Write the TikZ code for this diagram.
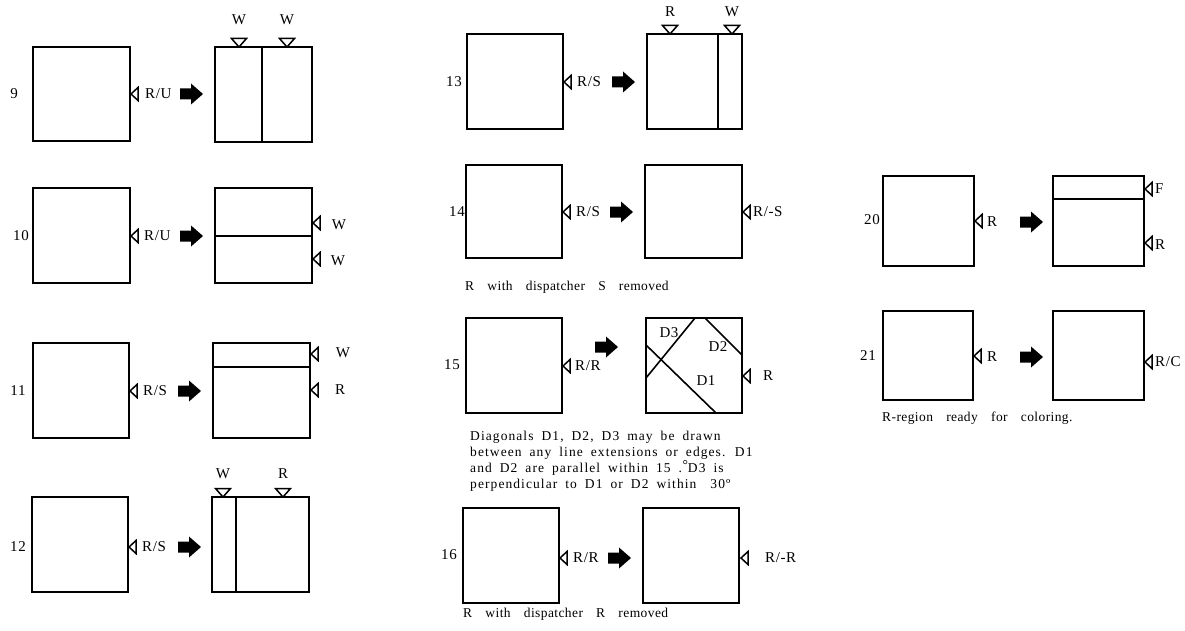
\documentclass[tikz,border=0pt]{standalone}
\usepackage{fontspec}
\setmainfont{Liberation Serif}
\newfontfamily\lblfont{Liberation Serif}[LetterSpace=4]
\newfontfamily\capfont{Liberation Serif}[LetterSpace=3,WordSpace=3.5]
\newfontfamily\diafont{Liberation Serif}[LetterSpace=8,WordSpace=1.8]
\newcommand\bx[5]{\node[box, minimum width={(#4)-(#2)}, minimum height={(#5)-(#3)}] (#1) at (#2,#3) {};}
\newcommand\mkL[2]{\draw[mk] (#1,#2) -- ++(7,-6.5) -- ++(0,13) -- cycle;}
\newcommand\mkD[2]{\draw[mk] (#1,#2) -- ++(-7.5,-8.5) -- ++(15,0) -- cycle;}
\tikzset{
  box/.style={draw, line width=1.3pt, inner sep=0pt, outer sep=0pt, anchor=north west},
  mk/.style={draw, line width=1.5pt, line join=miter},
  lbl/.style={font=\lblfont\fontsize{15}{17}\selectfont, inner sep=0pt, anchor=west},
  ctr/.style={font=\lblfont\fontsize{15}{17}\selectfont, inner sep=0pt},
  capt/.style={font=\capfont\fontsize{13.5}{16}\selectfont, inner sep=0pt, anchor=west},
  diag/.style={line width=1.6pt},
  bigarrow/.pic={\fill (0,-5.5) -- (11,-5.5) -- (11,-10.5) -- (23,0) -- (11,10.5) -- (11,5.5) -- (0,5.5) -- cycle;}
}
\begin{document}
\begin{tikzpicture}[x=1pt,y=-1pt]
\useasboundingbox (0,0) rectangle (1185,631);

% ---------- row 9
\node[ctr] (n9) at (14,94) {9};
\bx{a9}{33}{47}{130}{141}
\mkL{131}{94}
\node[lbl] (l9) at (145,94) {R/U};
\pic (ar9) at (180,94) {bigarrow};
\bx{b9}{215}{47}{312}{142}
\draw[line width=1.3pt] (262,47) -- (262,142);
\mkD{239}{47}
\mkD{287}{47}
\node[ctr] (w9a) at (239,20) {W};
\node[ctr] (w9b) at (287,20) {W};

% ---------- row 10
\node[ctr] (n10) at (21,236) {10};
\bx{a10}{33}{188}{130}{283}
\mkL{131}{236}
\node[lbl] (l10) at (144,236) {R/U};
\pic (ar10) at (180,236) {bigarrow};
\bx{b10}{215}{188}{312}{283}
\draw[line width=1.3pt] (215,236) -- (312,236);
\mkL{313}{223}
\mkL{313}{259}
\node[ctr] (w10a) at (339,225) {W};
\node[ctr] (w10b) at (338,261) {W};

% ---------- row 11
\node[ctr] (n11) at (18,391) {11};
\bx{a11}{33}{343}{129}{438}
\mkL{130}{391}
\node[lbl] (l11) at (143,391) {R/S};
\pic (ar11) at (178,391) {bigarrow};
\bx{b11}{213}{343}{310}{438}
\draw[line width=1.3pt] (213,367) -- (310,367);
\mkL{311}{354}
\mkL{311}{390}
\node[ctr] (w11) at (343,353) {W};
\node[ctr] (r11) at (340,390) {R};

% ---------- row 12
\node[ctr] (n12) at (18,547) {12};
\bx{a12}{32}{497}{128}{592}
\mkL{129}{547}
\node[lbl] (l12) at (142,547) {R/S};
\pic (ar12) at (178,547) {bigarrow};
\bx{b12}{212}{497}{309}{592}
\draw[line width=1.3pt] (236,497) -- (236,592);
\mkD{223}{497}
\mkD{283}{497}
\node[ctr] (w12) at (223,474) {W};
\node[ctr] (r12) at (283,474) {R};

% ---------- row 13
\node[ctr] (n13) at (454,82) {13};
\bx{a13}{467}{34}{563}{129}
\mkL{564}{82}
\node[lbl] (l13) at (577,82) {R/S};
\pic (ar13) at (612,82) {bigarrow};
\bx{b13}{647}{34}{742}{129}
\draw[line width=1.3pt] (718,34) -- (718,129);
\mkD{670}{34}
\mkD{732}{34}
\node[ctr] (r13) at (670,12) {R};
\node[ctr] (w13) at (732,12) {W};

% ---------- row 14
\node[ctr] (n14) at (457,212) {14};
\bx{a14}{466}{165}{562}{258}
\mkL{563}{212}
\node[lbl] (l14) at (576,212) {R/S};
\pic (ar14) at (610,212) {bigarrow};
\bx{b14}{645}{165}{742}{258}
\mkL{743}{212}
\node[lbl] (l14b) at (753,212) {R/-S};
\node[capt] (c14) at (465,287) {R with dispatcher S removed};

% ---------- row 15
\node[ctr] (n15) at (452,365) {15};
\bx{a15}{466}{318}{562}{413}
\mkL{563}{366}
\node[lbl] (l15) at (575,366) {R/R};
\pic (ar15) at (595,347) {bigarrow};
\bx{b15}{646}{318}{742}{413}
\draw[diag] (646,378) -- (695,318);
\draw[diag] (646,345) -- (716,413);
\draw[diag] (705,318) -- (742,355);
\node[ctr] (d3) at (669,333) {D3};
\node[ctr] (d2) at (718,347) {D2};
\node[ctr] (d1) at (706,381) {D1};
\mkL{743}{376}
\node[lbl] (r15) at (763,376) {R};
\node[font=\diafont\fontsize{13.5}{16}\selectfont, inner sep=0pt, anchor=north west, align=left] (c15) at (470,431)
  {Diagonals D1, D2, D3 may be drawn\\
   between any line extensions or edges. D1\\
   and D2 are parallel within 15 .\kern0.5pt\raisebox{3pt}{\textdegree}D3 is\\
   perpendicular to D1 or D2 within\hspace{14pt}30º};

% ---------- row 16
\node[ctr] (n16) at (449,555) {16};
\bx{a16}{463}{508}{559}{603}
\mkL{560}{558}
\node[lbl] (l16) at (573,558) {R/R};
\pic (ar16) at (608,558) {bigarrow};
\bx{b16}{643}{508}{739}{603}
\mkL{741}{558}
\node[lbl] (l16b) at (765,558) {R/-R};
\node[capt] (c16) at (463,614) {R with dispatcher R removed};

% ---------- row 20
\node[ctr] (n20) at (872,220) {20};
\bx{a20}{883}{176}{974}{266}
\mkL{975}{221}
\node[lbl] (l20) at (987,222) {R};
\pic (ar20) at (1020,222) {bigarrow};
\bx{b20}{1053}{176}{1144}{266}
\draw[line width=1.3pt] (1053,199) -- (1144,199);
\mkL{1145}{189}
\mkL{1145}{243}
\node[lbl] (f20) at (1155,189) {F};
\node[lbl] (r20) at (1155,245) {R};

% ---------- row 21
\node[ctr] (n21) at (868,356) {21};
\bx{a21}{883}{311}{973}{400}
\mkL{974}{356}
\node[lbl] (l21) at (987,357) {R};
\pic (ar21) at (1020,357) {bigarrow};
\bx{b21}{1053}{311}{1144}{400}
\mkL{1145}{362}
\node[lbl] (l21b) at (1155,362) {R/C};
\node[capt] (c21) at (882,418) {R-region ready for coloring.};
\end{tikzpicture}
\end{document}
